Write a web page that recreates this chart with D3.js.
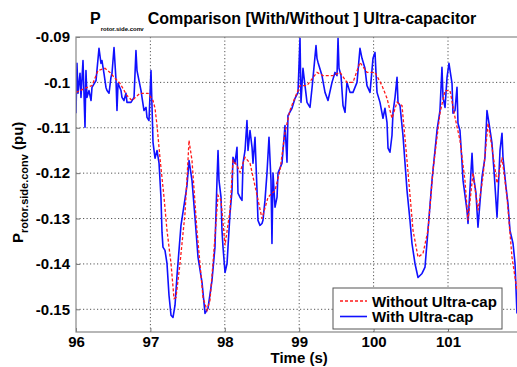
<!DOCTYPE html>
<html>
<head>
<meta charset="utf-8">
<script src="https://cdn.jsdelivr.net/npm/d3@7"></script>
<style>
  html, body { margin: 0; padding: 0; background: #fff; }
  svg { display: block; }
  text { font-family: Arial, "Liberation Sans", sans-serif; font-weight: bold; fill: #000; }
</style>
</head>
<body>
<svg id="chart" width="517" height="367"></svg>
<script>
// Time axis ticks (s) and power axis ticks (pu)
const xTicks = [96, 97, 98, 99, 100, 101];
const yTicks = [-0.09, -0.1, -0.11, -0.12, -0.13, -0.14, -0.15];
const yTickLabels = ["-0.09", "-0.1", "-0.11", "-0.12", "-0.13", "-0.14", "-0.15"];

// Rotor-side converter power without the ultra-capacitor
const timeWithout = [96.000, 96.121, 96.215, 96.296, 96.390, 96.457, 96.524, 96.591, 96.685, 96.753,
  96.860, 96.968, 97.035, 97.062, 97.089, 97.129, 97.183, 97.223, 97.277, 97.317,
  97.344, 97.398, 97.465, 97.505, 97.519, 97.559, 97.626, 97.707, 97.761, 97.801,
  97.841, 97.909, 97.949, 98.003, 98.070, 98.110, 98.164, 98.204, 98.272, 98.339,
  98.419, 98.500, 98.581, 98.675, 98.742, 98.809, 98.876, 98.917, 99.011, 99.105,
  99.239, 99.320, 99.454, 99.548, 99.642, 99.723, 99.817, 99.911, 100.019, 100.113,
  100.180, 100.247, 100.315, 100.382, 100.449, 100.530, 100.597, 100.664, 100.731, 100.798,
  100.892, 100.960, 101.027, 101.094, 101.161, 101.228, 101.269, 101.336, 101.403, 101.470,
  101.538, 101.591, 101.659, 101.726, 101.793, 101.860, 101.927];
const valuesWithout = [-0.1022, -0.1013, -0.1007, -0.0974, -0.0969, -0.0978, -0.0991, -0.1002, -0.1029, -0.1040,
  -0.1024, -0.1024, -0.1040, -0.1057, -0.1095, -0.1167, -0.1253, -0.1326, -0.1399, -0.1476,
  -0.1474, -0.1399, -0.1289, -0.1172, -0.1128, -0.1172, -0.1326, -0.1474, -0.1502, -0.1480,
  -0.1399, -0.1249, -0.1260, -0.1359, -0.1282, -0.1172, -0.1183, -0.1198, -0.1165, -0.1178,
  -0.1238, -0.1300, -0.1253, -0.1238, -0.1194, -0.1110, -0.1062, -0.1044, -0.1007, -0.1007,
  -0.0978, -0.0985, -0.0985, -0.0978, -0.1000, -0.1000, -0.0956, -0.0978, -0.0978, -0.1007,
  -0.1035, -0.1079, -0.1044, -0.1051, -0.1172, -0.1326, -0.1385, -0.1377, -0.1326, -0.1194,
  -0.1068, -0.1018, -0.1018, -0.1077, -0.1128, -0.1216, -0.1304, -0.1200, -0.1282, -0.1209,
  -0.1090, -0.1143, -0.1222, -0.1165, -0.1253, -0.1385, -0.1458];

// Rotor-side converter power with the ultra-capacitor
const timeWith = [96.000, 96.013, 96.027, 96.054, 96.067, 96.094, 96.121, 96.134, 96.148, 96.175,
  96.202, 96.215, 96.269, 96.309, 96.336, 96.349, 96.376, 96.403, 96.417, 96.444,
  96.470, 96.484, 96.511, 96.538, 96.551, 96.565, 96.605, 96.618, 96.645, 96.672,
  96.685, 96.739, 96.780, 96.806, 96.820, 96.847, 96.874, 96.887, 96.914, 96.941,
  96.954, 96.981, 97.008, 97.022, 97.035, 97.062, 97.089, 97.116, 97.142, 97.156,
  97.169, 97.196, 97.223, 97.250, 97.277, 97.304, 97.331, 97.358, 97.411, 97.452,
  97.492, 97.519, 97.559, 97.599, 97.640, 97.694, 97.734, 97.774, 97.828, 97.868,
  97.895, 97.909, 97.922, 97.949, 97.962, 97.976, 98.003, 98.030, 98.043, 98.070,
  98.097, 98.110, 98.137, 98.164, 98.177, 98.204, 98.231, 98.245, 98.272, 98.298,
  98.312, 98.339, 98.366, 98.379, 98.406, 98.433, 98.446, 98.473, 98.500, 98.513,
  98.540, 98.567, 98.594, 98.621, 98.634, 98.648, 98.675, 98.702, 98.715, 98.769,
  98.809, 98.836, 98.849, 98.903, 98.944, 98.984, 99.011, 99.024, 99.051, 99.078,
  99.105, 99.145, 99.172, 99.185, 99.226, 99.239, 99.253, 99.306, 99.347, 99.387,
  99.441, 99.481, 99.508, 99.522, 99.535, 99.562, 99.589, 99.616, 99.642, 99.683,
  99.723, 99.777, 99.817, 99.844, 99.884, 99.911, 99.952, 99.992, 100.019, 100.032,
  100.046, 100.086, 100.126, 100.153, 100.180, 100.194, 100.220, 100.247, 100.261, 100.288,
  100.315, 100.328, 100.355, 100.395, 100.449, 100.489, 100.516, 100.556, 100.597, 100.651,
  100.691, 100.731, 100.785, 100.852, 100.892, 100.919, 100.933, 100.960, 100.987, 101.013,
  101.054, 101.067, 101.094, 101.121, 101.134, 101.161, 101.188, 101.202, 101.255, 101.269,
  101.323, 101.336, 101.376, 101.403, 101.457, 101.497, 101.524, 101.551, 101.591, 101.618,
  101.659, 101.699, 101.726, 101.739, 101.780, 101.806, 101.833, 101.874, 101.901, 101.927];
const valuesWith = [-0.1068, -0.0958, -0.1024, -0.0980, -0.1033, -0.0952, -0.1099, -0.0974, -0.1033, -0.1018,
  -0.1040, -0.1011, -0.0996, -0.0925, -0.0958, -0.0952, -0.0980, -0.1011, -0.1018, -0.1024,
  -0.0989, -0.0980, -0.0923, -0.0996, -0.1062, -0.1002, -0.1018, -0.1033, -0.1040, -0.1024,
  -0.1044, -0.1044, -0.1033, -0.0930, -0.0974, -0.0996, -0.1018, -0.1033, -0.1062, -0.1055,
  -0.1077, -0.1084, -0.0974, -0.1055, -0.1132, -0.1167, -0.1150, -0.1178, -0.1253, -0.1330,
  -0.1363, -0.1370, -0.1399, -0.1469, -0.1513, -0.1518, -0.1491, -0.1425, -0.1315, -0.1271,
  -0.1227, -0.1172, -0.1216, -0.1297, -0.1385, -0.1441, -0.1509, -0.1498, -0.1436, -0.1363,
  -0.1216, -0.1150, -0.1216, -0.1253, -0.1326, -0.1363, -0.1419, -0.1399, -0.1363, -0.1289,
  -0.1238, -0.1165, -0.1178, -0.1143, -0.1244, -0.1253, -0.1260, -0.1178, -0.1150, -0.1084,
  -0.1150, -0.1106, -0.1143, -0.1178, -0.1121, -0.1238, -0.1304, -0.1315, -0.1311, -0.1304,
  -0.1260, -0.1200, -0.1121, -0.1216, -0.1355, -0.1200, -0.1275, -0.1253, -0.1200, -0.1178,
  -0.1095, -0.1176, -0.1073, -0.1057, -0.1035, -0.1022, -0.0903, -0.1044, -0.0969, -0.1007,
  -0.1044, -0.1055, -0.1013, -0.0991, -0.0919, -0.0947, -0.0956, -0.0985, -0.1022, -0.1040,
  -0.1000, -0.0978, -0.0985, -0.0903, -0.0969, -0.0985, -0.1051, -0.1066, -0.1000, -0.1022,
  -0.1022, -0.1000, -0.0925, -0.0947, -0.0969, -0.1007, -0.1022, -0.0947, -0.0934, -0.0978,
  -0.1022, -0.1044, -0.1079, -0.1057, -0.1088, -0.1145, -0.1154, -0.1117, -0.1066, -0.1033,
  -0.0989, -0.1044, -0.1051, -0.1117, -0.1238, -0.1304, -0.1355, -0.1399, -0.1430, -0.1421,
  -0.1407, -0.1326, -0.1216, -0.1106, -0.1062, -0.0967, -0.1033, -0.1055, -0.0989, -0.0958,
  -0.1002, -0.1068, -0.1062, -0.1011, -0.1090, -0.1106, -0.1176, -0.1216, -0.1282, -0.1311,
  -0.1156, -0.1200, -0.1244, -0.1319, -0.1209, -0.1165, -0.1062, -0.1090, -0.1134, -0.1194,
  -0.1297, -0.1150, -0.1112, -0.1165, -0.1231, -0.1267, -0.1326, -0.1355, -0.1399, -0.1509];

const seriesNames = ["Without Ultra-cap", "With Ultra-cap"];
const seriesColors = ["#ff1a1a", "#1010ff"];

const svg = d3.select("#chart");
const plot = { left: 76, top: 37, right: 522.4, bottom: 332 };

const x = d3.scaleLinear().domain([96, 102]).range([plot.left, plot.right]);
const y = d3.scaleLinear().domain([-0.155, -0.09]).range([plot.bottom, plot.top]);

svg.append("defs").append("clipPath").attr("id", "plot-clip")
  .append("rect")
  .attr("x", plot.left).attr("y", plot.top)
  .attr("width", plot.right - plot.left).attr("height", plot.bottom - plot.top);

// Dotted grid
const grid = svg.append("g").attr("stroke", "#555").attr("stroke-width", 1)
  .attr("stroke-dasharray", "1.2,2.3");
grid.selectAll("line.vx").data(xTicks.slice(1)).join("line")
  .attr("x1", d => x(d)).attr("x2", d => x(d))
  .attr("y1", plot.top).attr("y2", plot.bottom);
grid.selectAll("line.hy").data(yTicks.slice(1)).join("line")
  .attr("x1", plot.left).attr("x2", plot.right)
  .attr("y1", d => y(d)).attr("y2", d => y(d));

// Axes with inward ticks, MATLAB style
const xAxis = d3.axisBottom(x).tickValues(xTicks).tickSize(-4).tickPadding(4)
  .tickFormat(d3.format("d"));
const gx = svg.append("g").attr("transform", `translate(0,${plot.bottom})`).call(xAxis);
gx.select(".domain").remove();
gx.selectAll(".tick line").attr("stroke", "#777");
gx.selectAll(".tick text").attr("font-size", 15).attr("font-weight", "bold")
  .attr("font-family", "Arial, 'Liberation Sans', sans-serif").attr("fill", "#000");

const yAxis = d3.axisLeft(y).tickValues(yTicks).tickSize(-4).tickPadding(6)
  .tickFormat((d, i) => yTickLabels[i]);
const gy = svg.append("g").attr("transform", `translate(${plot.left},0)`).call(yAxis);
gy.select(".domain").remove();
gy.selectAll(".tick line").attr("stroke", "#777");
gy.selectAll(".tick text").attr("font-size", 15).attr("font-weight", "bold")
  .attr("font-family", "Arial, 'Liberation Sans', sans-serif").attr("fill", "#000");

// Curves
const line = d3.line().x(d => x(d[0])).y(d => y(d[1]));
const dataWithout = d3.zip(timeWithout, valuesWithout);
const dataWith = d3.zip(timeWith, valuesWith);
const curves = svg.append("g").attr("clip-path", "url(#plot-clip)");
curves.append("path").datum(dataWith)
  .attr("fill", "none").attr("stroke", seriesColors[1]).attr("stroke-width", 1.6)
  .attr("stroke-linejoin", "round").attr("d", line);
curves.append("path").datum(dataWithout)
  .attr("fill", "none").attr("stroke", seriesColors[0]).attr("stroke-width", 1.3)
  .attr("stroke-dasharray", "3,2").attr("d", line);

// Frame
svg.append("rect")
  .attr("x", plot.left).attr("y", plot.top)
  .attr("width", plot.right - plot.left).attr("height", plot.bottom - plot.top)
  .attr("fill", "none").attr("stroke", "#888").attr("stroke-width", 1.2);

// Legend
const legend = svg.append("g").attr("transform", "translate(333,288)");
legend.append("rect").attr("width", 169).attr("height", 41)
  .attr("fill", "#fff").attr("stroke", "#555").attr("stroke-width", 1);
seriesNames.forEach((name, i) => {
  const ly = 13 + i * 15.5;
  legend.append("line").attr("x1", 7).attr("x2", 34).attr("y1", ly).attr("y2", ly)
    .attr("stroke", seriesColors[i]).attr("stroke-width", i === 0 ? 1.3 : 1.6)
    .attr("stroke-dasharray", i === 0 ? "3,2" : null);
  legend.append("text").attr("x", 39).attr("y", ly + 5.5)
    .attr("font-size", 15).text(name);
});

// Title with subscript
const title = svg.append("text").attr("x", 90).attr("y", 24).attr("font-size", 16);
title.append("tspan").text("P");
title.append("tspan").attr("font-size", 6).attr("dy", 7).text("rotor.side.conv");
title.append("tspan").attr("dy", -7).attr("dx", 4).text("Comparison [With/Without ] Ultra-capacitor");

// Axis labels
svg.append("text").attr("x", x(99)).attr("y", 363).attr("text-anchor", "middle")
  .attr("font-size", 15).text("Time (s)");

const yl = svg.append("text").attr("transform", "translate(23,243) rotate(-90)")
  .attr("font-size", 15);
yl.append("tspan").text("P");
yl.append("tspan").attr("font-size", 11).attr("dy", 5).text("rotor.side.conv");
yl.append("tspan").attr("dy", -5).text(" (pu)");
</script>
</body>
</html>
